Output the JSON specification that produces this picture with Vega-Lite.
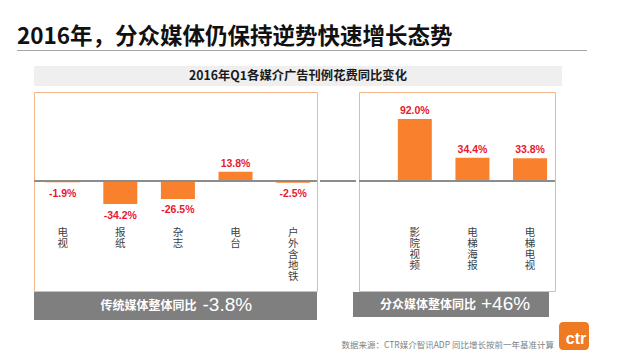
{
  "$schema": "https://vega.github.io/schema/vega-lite/v6.json",
  "background": "white",
  "padding": {"left": 17, "top": 25, "right": 0, "bottom": 0},
  "config": {
    "view": {"stroke": null},
    "font": "Noto Sans CJK SC",
    "locale": {"number": {"decimal": ".", "thousands": ",", "grouping": [3], "currency": ["", ""], "minus": "-"}}
  },
  "datasets": {
    "traditional": [
      {"m": "电视", "v": -0.019},
      {"m": "报纸", "v": -0.342},
      {"m": "杂志", "v": -0.265},
      {"m": "电台", "v": 0.138},
      {"m": "户外含地铁", "v": -0.025}
    ],
    "focus": [
      {"m": "影院视频", "v": 0.92},
      {"m": "电梯海报", "v": 0.344},
      {"m": "电梯电视", "v": 0.338}
    ]
  },
  "spacing": 15,
  "vconcat": [
    {
      "title": {"text": "2016年，分众媒体仍保持逆势快速增长态势", "anchor": "start", "fontSize": 22.5, "fontWeight": "bold", "color": "#111111", "offset": 2, "font": "Noto Sans CJK SC"},
      "width": 570,
      "height": 1,
      "view": {"fill": "#a6a6a6", "stroke": null},
      "data": {"values": []},
      "mark": {"type": "text"},
      "encoding": {"text": {"field": "t"}}
    },
    {
      "spacing": 0,
      "hconcat": [
        {
          "width": 15,
          "height": 1,
          "data": {"values": []},
          "mark": {"type": "text"},
          "encoding": {"text": {"field": "t"}}
        },
        {
          "spacing": 5,
          "vconcat": [
            {
              "width": 528,
              "height": 20,
              "view": {"fill": "#efefef", "stroke": null},
              "data": {"values": [{"t": "2016年Q1各媒介广告刊例花费同比变化"}]},
              "mark": {"type": "text", "fontSize": 12.3, "fontWeight": "bold", "color": "#1a1a1a", "font": "Noto Sans CJK SC"},
              "encoding": {"text": {"field": "t"}}
            },
            {
              "spacing": 2,
              "vconcat": [
                {
                  "spacing": 0,
                  "vconcat": [
                    {
                      "spacing": 0,
                      "hconcat": [
                        {
                          "width": 283,
                          "height": 199,
                          "view": {"stroke": "#f2b58c", "strokeWidth": 1},
                          "data": {"name": "traditional"},
                          "layer": [
                            {
                              "mark": {"type": "bar", "color": "#f9802d"},
                              "encoding": {
                                "x": {"field": "m", "type": "nominal", "sort": null, "scale": {"paddingInner": 0.41, "paddingOuter": 0.161, "align": 0.63},
                                  "axis": {"title": null, "orient": "bottom", "offset": -64, "domain": false, "ticks": false, "labelPadding": 0, "labelAngle": 0, "labelBaseline": "top", "labelOverlap": false, "labelExpr": "split(datum.label, '')", "labelFont": "Noto Sans CJK SC", "labelFontSize": 10.5, "labelLineHeight": 11, "labelColor": "#404040"}},
                                "y": {"field": "v", "type": "quantitative", "scale": {"domain": [-1.63, 1.32], "nice": false, "zero": false}, "axis": null}
                              }
                            },
                            {
                              "transform": [{"filter": "datum.v >= 0"}],
                              "mark": {"type": "text", "baseline": "alphabetic", "dy": -5, "fontSize": 10.5, "fontWeight": "bold", "font": "Liberation Sans", "color": "#e8192c"},
                              "encoding": {
                                "x": {"field": "m", "type": "nominal", "sort": null},
                                "y": {"field": "v", "type": "quantitative"},
                                "text": {"field": "v", "type": "quantitative", "format": ".1%"}
                              }
                            },
                            {
                              "transform": [{"filter": "datum.v < 0"}],
                              "mark": {"type": "text", "baseline": "alphabetic", "dy": 14.5, "fontSize": 10.5, "fontWeight": "bold", "font": "Liberation Sans", "color": "#e8192c"},
                              "encoding": {
                                "x": {"field": "m", "type": "nominal", "sort": null},
                                "y": {"field": "v", "type": "quantitative"},
                                "text": {"field": "v", "type": "quantitative", "format": ".1%"}
                              }
                            },
                            {
                              "data": {"values": [{"z": 0}]},
                              "mark": {"type": "rule", "color": "#8c8c8c", "strokeWidth": 2},
                              "encoding": {"y": {"field": "z", "type": "quantitative"}}
                            }
                          ]
                        },
                        {
                          "width": 36,
                          "height": 199,
                          "data": {"values": [{"z": 0}]},
                          "mark": {"type": "rule", "color": "#8c8c8c", "strokeWidth": 2},
                          "encoding": {"y": {"field": "z", "type": "quantitative", "scale": {"domain": [-1.63, 1.32], "nice": false, "zero": false}, "axis": null}}
                        },
                        {
                          "width": 196,
                          "height": 199,
                          "view": {"stroke": "#f2b58c", "strokeWidth": 1},
                          "data": {"name": "focus"},
                          "layer": [
                            {
                              "mark": {"type": "bar", "color": "#f9802d"},
                              "encoding": {
                                "x": {"field": "m", "type": "nominal", "sort": null, "scale": {"paddingInner": 0.41, "paddingOuter": 0.406, "align": 0.83},
                                  "axis": {"title": null, "orient": "bottom", "offset": -64, "domain": false, "ticks": false, "labelPadding": 0, "labelAngle": 0, "labelBaseline": "top", "labelOverlap": false, "labelExpr": "split(datum.label, '')", "labelFont": "Noto Sans CJK SC", "labelFontSize": 10.5, "labelLineHeight": 11, "labelColor": "#404040"}},
                                "y": {"field": "v", "type": "quantitative", "scale": {"domain": [-1.63, 1.32], "nice": false, "zero": false}, "axis": null}
                              }
                            },
                            {
                              "mark": {"type": "text", "baseline": "alphabetic", "dy": -5, "fontSize": 10.5, "fontWeight": "bold", "font": "Liberation Sans", "color": "#e8192c"},
                              "encoding": {
                                "x": {"field": "m", "type": "nominal", "sort": null},
                                "y": {"field": "v", "type": "quantitative"},
                                "text": {"field": "v", "type": "quantitative", "format": ".1%"}
                              }
                            },
                            {
                              "data": {"values": [{"z": 0}]},
                              "mark": {"type": "rule", "color": "#8c8c8c", "strokeWidth": 2},
                              "encoding": {"y": {"field": "z", "type": "quantitative"}}
                            }
                          ]
                        }
                      ]
                    },
                    {
                      "spacing": 0,
                      "hconcat": [
                        {
                          "width": 283,
                          "height": 28,
                          "view": {"fill": "#7f7f7f", "stroke": null},
                          "data": {"values": [{"group": "传统媒体整体同比", "total": -0.038}]},
                          "layer": [
                            {
                              "mark": {"type": "text", "align": "right", "dx": 21, "color": "white", "fontSize": 12, "fontWeight": "bold", "font": "Noto Sans CJK SC"},
                              "encoding": {"text": {"field": "group", "type": "nominal"}}
                            },
                            {
                              "mark": {"type": "text", "align": "left", "dx": 27, "dy": -1, "color": "white", "fontSize": 19, "font": "Liberation Sans"},
                              "encoding": {"text": {"field": "total", "type": "quantitative", "format": ".1%"}}
                            }
                          ]
                        },
                        {
                          "width": 36,
                          "height": 24,
                          "data": {"values": []},
                          "mark": {"type": "text"},
                          "encoding": {"text": {"field": "t"}}
                        },
                        {
                          "width": 196,
                          "height": 25,
                          "view": {"fill": "#7f7f7f", "stroke": null},
                          "data": {"values": [{"group": "分众媒体整体同比", "total": 0.46}]},
                          "layer": [
                            {
                              "mark": {"type": "text", "align": "right", "dx": 25, "color": "white", "fontSize": 12, "fontWeight": "bold", "font": "Noto Sans CJK SC"},
                              "encoding": {"text": {"field": "group", "type": "nominal"}}
                            },
                            {
                              "mark": {"type": "text", "align": "left", "dx": 30, "dy": -1, "color": "white", "fontSize": 19, "font": "Liberation Sans"},
                              "encoding": {"text": {"field": "total", "type": "quantitative", "format": "+.0%"}}
                            }
                          ]
                        }
                      ]
                    }
                  ]
                },
                {
                  "spacing": 5,
                  "hconcat": [
                    {
                      "width": 520,
                      "height": 28,
                      "data": {"values": [{"t": "数据来源：CTR媒介智讯ADP   同比增长按前一年基准计算"}]},
                      "mark": {"type": "text", "align": "right", "dy": 9, "fontSize": 8.5, "color": "#7f7f7f", "font": "Noto Sans CJK SC"},
                      "encoding": {"x": {"value": "width"}, "text": {"field": "t"}}
                    },
                    {
                      "width": 30,
                      "height": 28,
                      "view": {"fill": "#ee7a22", "stroke": null, "cornerRadius": 4},
                      "data": {"values": [{"t": "ctr"}]},
                      "mark": {"type": "text", "color": "white", "fontSize": 16, "fontWeight": "bold", "font": "Liberation Sans", "dy": 3, "dx": 2},
                      "encoding": {"text": {"field": "t"}}
                    }
                  ]
                }
              ]
            }
          ]
        }
      ]
    }
  ]
}
